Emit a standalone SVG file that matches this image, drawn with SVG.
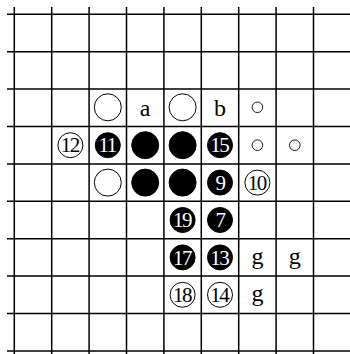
<svg xmlns="http://www.w3.org/2000/svg" width="350" height="354" viewBox="0 0 350 354">
<style>
.grid line{stroke:#000;stroke-width:1.5}
.w{fill:#fff;stroke:#000;stroke-width:1}
.b{fill:#000;stroke:#000;stroke-width:1}
.s{fill:#fff;stroke:#000;stroke-width:0.9}
.lbl{font-family:"Liberation Serif","DejaVu Serif",serif;font-size:24px;text-anchor:middle;fill:#000}
.nw{font-family:"Liberation Serif","DejaVu Serif",serif;font-size:21px;text-anchor:middle;fill:#000;letter-spacing:-1.5px}
.nb{font-family:"Liberation Serif","DejaVu Serif",serif;font-size:21px;text-anchor:middle;fill:#fff;letter-spacing:-1.5px}
</style>
<rect width="350" height="354" fill="#fff"/>
<g id="connectors" class="grid">
<line x1="7" y1="14.3" x2="350" y2="14.3"/>
<line x1="7" y1="51.7" x2="350" y2="51.7"/>
<line x1="7" y1="89.1" x2="350" y2="89.1"/>
<line x1="7" y1="126.5" x2="350" y2="126.5"/>
<line x1="7" y1="163.9" x2="350" y2="163.9"/>
<line x1="7" y1="201.3" x2="350" y2="201.3"/>
<line x1="7" y1="238.7" x2="350" y2="238.7"/>
<line x1="7" y1="276.1" x2="350" y2="276.1"/>
<line x1="7" y1="313.5" x2="350" y2="313.5"/>
<line x1="7" y1="350.9" x2="350" y2="350.9"/>
<line x1="14.3" y1="7" x2="14.3" y2="354"/>
<line x1="51.7" y1="7" x2="51.7" y2="354"/>
<line x1="89.1" y1="7" x2="89.1" y2="354"/>
<line x1="126.5" y1="7" x2="126.5" y2="354"/>
<line x1="163.9" y1="7" x2="163.9" y2="354"/>
<line x1="201.3" y1="7" x2="201.3" y2="354"/>
<line x1="238.7" y1="7" x2="238.7" y2="354"/>
<line x1="276.1" y1="7" x2="276.1" y2="354"/>
<line x1="313.5" y1="7" x2="313.5" y2="354"/>
</g>
<!-- row 3 -->
<g id="w-r3c2"><circle class="w" cx="107.8" cy="107.3" r="13.5"/></g>
<g id="a"><text class="lbl" x="145.2" y="115.5">a</text></g>
<g id="w-r3c4"><circle class="w" cx="182.6" cy="107.3" r="13.5"/></g>
<g id="b"><text class="lbl" x="220" y="115.5">b</text></g>
<g id="s-r3c6"><circle class="s" cx="257.4" cy="107.3" r="5.3"/></g>
<!-- row 4 -->
<g id="n12"><circle class="w" cx="70.4" cy="145.2" r="12.5"/><text class="nw" x="69.7" y="152.3">12</text></g>
<g id="n11"><circle class="b" cx="107.8" cy="145.2" r="12.5"/><text class="nb" x="107.1" y="152.3">11</text></g>
<g id="b-r4c3"><circle class="b" cx="145.2" cy="145.2" r="13.5"/></g>
<g id="b-r4c4"><circle class="b" cx="182.6" cy="145.2" r="13.5"/></g>
<g id="n15"><circle class="b" cx="220" cy="145.2" r="12.5"/><text class="nb" x="219.3" y="152.3">15</text></g>
<g id="s-r4c6"><circle class="s" cx="257.4" cy="145.2" r="5.3"/></g>
<g id="s-r4c7"><circle class="s" cx="294.8" cy="145.2" r="5.3"/></g>
<!-- row 5 -->
<g id="w-r5c2"><circle class="w" cx="107.8" cy="182.6" r="13.5"/></g>
<g id="b-r5c3"><circle class="b" cx="145.2" cy="182.6" r="13.5"/></g>
<g id="b-r5c4"><circle class="b" cx="182.6" cy="182.6" r="13.5"/></g>
<g id="n9"><circle class="b" cx="220" cy="182.6" r="12.5"/><text class="nb" x="220" y="189.7">9</text></g>
<g id="n10"><circle class="w" cx="257.4" cy="182.6" r="12.5"/><text class="nw" x="256.7" y="189.7">10</text></g>
<!-- row 6 -->
<g id="n19"><circle class="b" cx="182.6" cy="220" r="12.5"/><text class="nb" x="181.9" y="227.1">19</text></g>
<g id="n7"><circle class="b" cx="220" cy="220" r="12.5"/><text class="nb" x="220" y="227.1">7</text></g>
<!-- row 7 -->
<g id="n17"><circle class="b" cx="182.6" cy="257.4" r="12.5"/><text class="nb" x="181.9" y="264.5">17</text></g>
<g id="n13"><circle class="b" cx="220" cy="257.4" r="12.5"/><text class="nb" x="219.3" y="264.5">13</text></g>
<g id="g1"><text class="lbl" x="257.4" y="263.5">g</text></g>
<g id="g2"><text class="lbl" x="294.8" y="263.5">g</text></g>
<!-- row 8 -->
<g id="n18"><circle class="w" cx="182.6" cy="294.8" r="12.5"/><text class="nw" x="181.9" y="301.9">18</text></g>
<g id="n14"><circle class="w" cx="220" cy="294.8" r="12.5"/><text class="nw" x="219.3" y="301.9">14</text></g>
<g id="g3"><text class="lbl" x="257.4" y="300.9">g</text></g>
</svg>
